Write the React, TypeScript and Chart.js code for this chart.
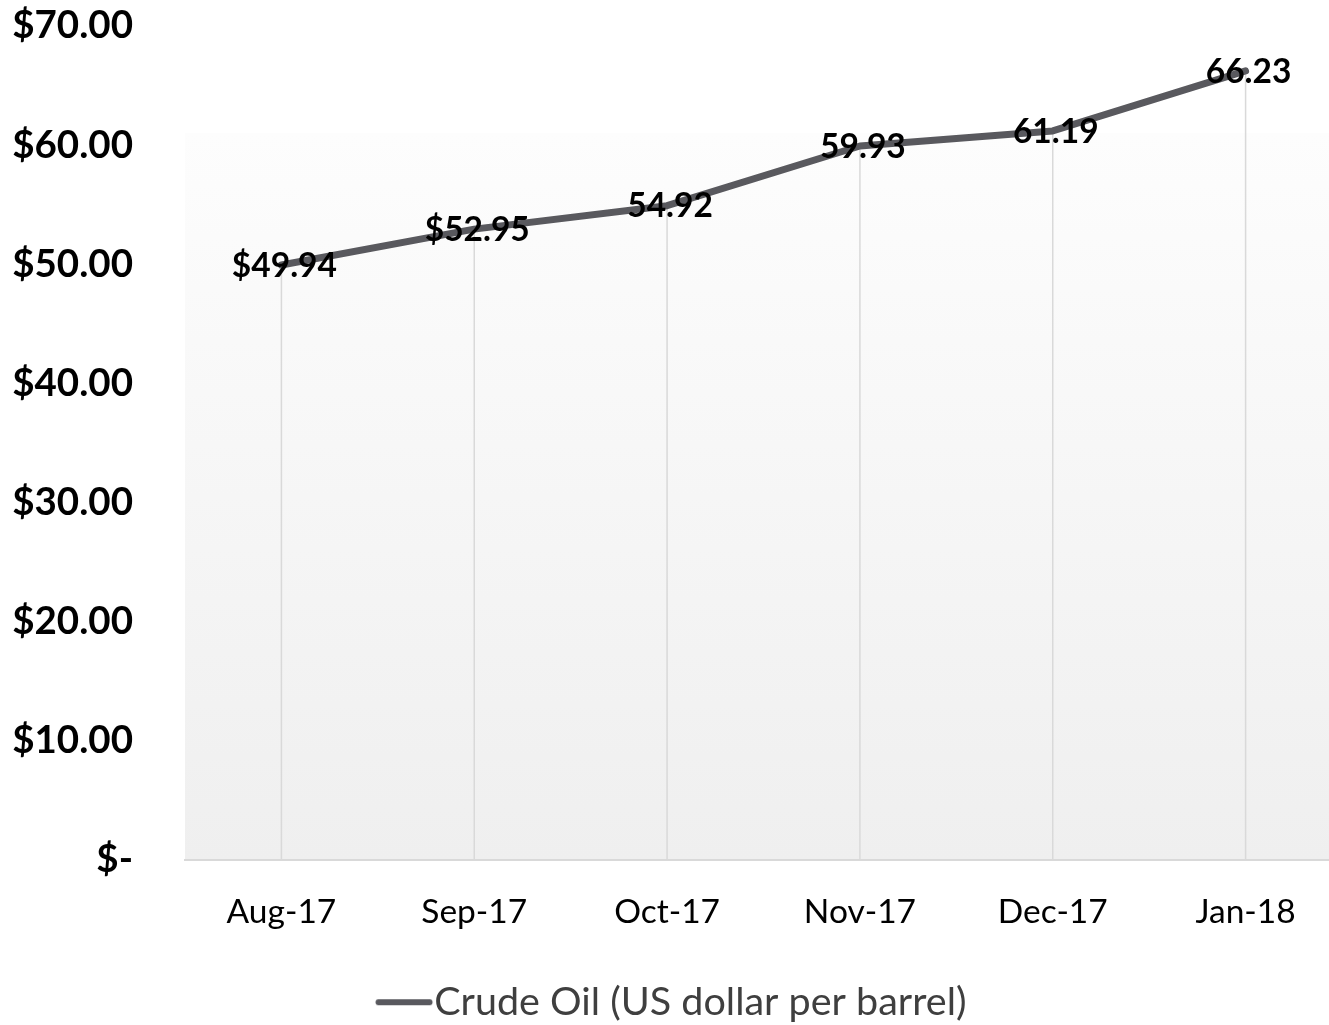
import React, { useEffect, useRef } from "react";
import { Chart, registerables } from "chart.js";

Chart.register(...registerables);

const categories = ["Aug-17", "Sep-17", "Oct-17", "Nov-17", "Dec-17", "Jan-18"];
const crudeOil = [49.94, 52.95, 54.92, 59.93, 61.19, 66.23];
const dataLabels = ["$49.94", "$52.95", "54.92", "59.93", "61.19", "66.23"];
const yTickLabels = ["$-", "$10.00", "$20.00", "$30.00", "$40.00", "$50.00", "$60.00", "$70.00"];
const seriesName = "Crude Oil (US dollar per barrel)";

const LINE_COLOR = "#59595e";
const FONT = "Lato, 'Open Sans', sans-serif";

function makeLegendImage(): HTMLCanvasElement {
  const c = document.createElement("canvas");
  c.width = 100;
  c.height = 12;
  const ctx = c.getContext("2d")!;
  ctx.strokeStyle = LINE_COLOR;
  ctx.lineWidth = 6;
  ctx.lineCap = "round";
  ctx.beginPath();
  ctx.moveTo(33.5, 6);
  ctx.lineTo(84.5, 6);
  ctx.stroke();
  return c;
}

const bgPlugin = {
  id: "bgGradient",
  beforeDraw(chart: any) {
    const { ctx, chartArea } = chart;
    const top = chartArea.top + 107;
    const g = ctx.createLinearGradient(0, top, 0, chartArea.bottom);
    g.addColorStop(0, "#fdfdfd");
    g.addColorStop(1, "#efefef");
    ctx.save();
    ctx.fillStyle = g;
    ctx.fillRect(chartArea.left, top, chartArea.right - chartArea.left, chartArea.bottom - top);
    ctx.restore();
  },
};

const dropLinePlugin = {
  id: "dropLines",
  beforeDatasetsDraw(chart: any) {
    const { ctx, chartArea } = chart;
    const meta = chart.getDatasetMeta(0);
    ctx.save();
    ctx.strokeStyle = "#d9d9d9";
    ctx.lineWidth = 1.5;
    meta.data.forEach((pt: any) => {
      ctx.beginPath();
      ctx.moveTo(pt.x, pt.y);
      ctx.lineTo(pt.x, chartArea.bottom);
      ctx.stroke();
    });
    ctx.restore();
  },
};

const labelPlugin = {
  id: "dataLabels",
  afterDatasetsDraw(chart: any) {
    const { ctx } = chart;
    const meta = chart.getDatasetMeta(0);
    ctx.save();
    ctx.font = `bold 33.5px ${FONT}`;
    ctx.fillStyle = "#000000";
    ctx.textAlign = "center";
    ctx.textBaseline = "middle";
    meta.data.forEach((pt: any, i: number) => {
      ctx.fillText(dataLabels[i], pt.x + 3, pt.y + 1);
    });
    ctx.restore();
  },
};

export default function App() {
  const canvasRef = useRef<HTMLCanvasElement | null>(null);

  useEffect(() => {
    const canvas = canvasRef.current!;
    const chart = new Chart(canvas, {
      type: "line",
      data: {
        labels: categories,
        datasets: [
          {
            label: seriesName,
            data: crudeOil,
            borderColor: LINE_COLOR,
            backgroundColor: LINE_COLOR,
            borderWidth: 7,
            borderCapStyle: "round",
            borderJoinStyle: "round",
            pointRadius: 0,
            pointHoverRadius: 0,
            tension: 0,
            fill: false,
          },
        ],
      },
      options: {
        responsive: false,
        animation: false,
        devicePixelRatio: 1,
        layout: { padding: { top: 26, left: 0, right: 0, bottom: 0 } },
        plugins: {
          tooltip: { enabled: false },
          legend: {
            position: "bottom",
            labels: {
              usePointStyle: true,
              pointStyle: makeLegendImage() as any,
              pointStyleWidth: 39,
              boxHeight: 12,
              padding: 2,
              color: "#3f3f3f",
              font: { family: FONT, size: 39.5 },
            },
          },
        },
        scales: {
          x: {
            offset: true,
            grid: { display: false, drawTicks: false, offset: true },
            border: { display: true, color: "#d9d9d9", width: 2 },
            ticks: {
              color: "#000000",
              padding: 32,
              font: { family: FONT, size: 33.5 },
              maxRotation: 0,
            },
            afterFit(scale: any) {
              scale.height = 120.5;
            },
          },
          y: {
            min: 0,
            max: 70,
            grid: { display: false, drawTicks: false },
            border: { display: false },
            ticks: {
              stepSize: 10,
              color: "#000000",
              padding: 52,
              font: { family: FONT, size: 38.5, weight: "bold" },
              callback: (v: any) => yTickLabels[Math.round(Number(v) / 10)],
            },
            afterFit(scale: any) {
              scale.width = 185;
              scale.paddingTop = 0;
              scale.paddingBottom = 0;
            },
          },
        },
      },
      plugins: [bgPlugin, dropLinePlugin, labelPlugin],
    });
    return () => chart.destroy();
  }, []);

  return (
    <div
      style={{
        position: "fixed",
        left: 0,
        top: 0,
        width: 1329,
        height: 1025,
        overflow: "hidden",
        background: "#ffffff",
      }}
    >
      <canvas ref={canvasRef} width={1342} height={1032} style={{ display: "block" }} />
    </div>
  );
}
